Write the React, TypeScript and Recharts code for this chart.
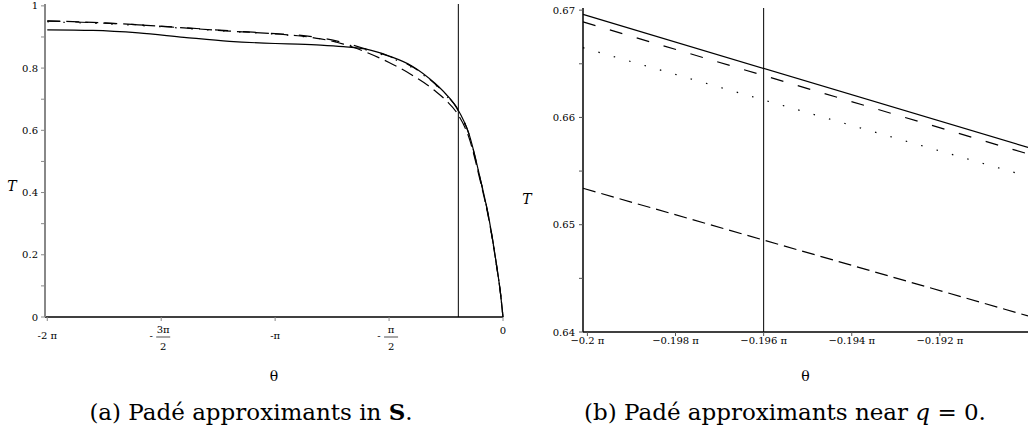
import React from 'react';
import { LineChart, Line, XAxis, YAxis, ReferenceLine, ReferenceArea } from 'recharts';

// (a) whole sector, theta in units of pi
const thetaS = [-2, -1.8, -1.6, -1.4, -1.2, -1.0, -0.9, -0.8, -0.7, -0.6, -0.5, -0.4, -0.3, -0.25, -0.2, -0.15, -0.1, -0.06, -0.03, -0.01, 0];
const solidS = [0.923, 0.921, 0.913, 0.899, 0.886, 0.879, 0.877, 0.874, 0.869, 0.861, 0.839, 0.807, 0.752, 0.716, 0.6695, 0.59, 0.445, 0.31, 0.175, 0.07, 0];
const longDashS = [0.951, 0.946, 0.939, 0.93, 0.92, 0.911, 0.906, 0.897, 0.882, 0.861, 0.838, 0.805, 0.75, 0.715, 0.6688, 0.589, 0.444, 0.31, 0.175, 0.07, 0];
const dottedS = [0.949, 0.944, 0.937, 0.928, 0.918, 0.909, 0.903, 0.894, 0.879, 0.858, 0.835, 0.802, 0.748, 0.712, 0.6665, 0.587, 0.443, 0.309, 0.175, 0.07, 0];
const dashS = [0.952, 0.947, 0.939, 0.929, 0.919, 0.91, 0.904, 0.894, 0.877, 0.851, 0.818, 0.778, 0.728, 0.696, 0.6533, 0.578, 0.438, 0.306, 0.173, 0.07, 0];
const ticksS = [-2, -1.5, -1, -0.5, 0];
const tickLabelsS = ['-2 π', '-3π/2', '-π', '-π/2', '0'];
const yTicksS = [0, 0.1, 0.2, 0.3, 0.4, 0.5, 0.6, 0.7, 0.8, 0.9, 1];

// (b) close-up near q = 0
const thetaQ = [-0.2001, -0.19];
const solidQ = [0.6696, 0.6572];
const longDashQ = [0.6689, 0.6566];
const dottedQ = [0.6665, 0.6545];
const dashQ = [0.6534, 0.6415];
const ticksQ = [-0.2, -0.198, -0.196, -0.194, -0.192];
const yTicksQ = [0.64, 0.645, 0.65, 0.655, 0.66, 0.665, 0.67];

const markerTheta = -0.196;

const serif = '"DejaVu Serif", serif';
const tickFont = { fill: '#000', fontSize: 10, fontFamily: serif };

const dataS = thetaS.map((t, i) => ({ t, solid: solidS[i], longDash: longDashS[i], dotted: dottedS[i], dash: dashS[i] }));
const dataQ = thetaQ.map((t, i) => ({ t, solid: solidQ[i], longDash: longDashQ[i], dotted: dottedQ[i], dash: dashQ[i] }));

function PiTick(props: any) {
  const { x, y, payload } = props;
  const label = tickLabelsS[ticksS.indexOf(payload.value)] || '';
  const style = { fontSize: 10, fontFamily: serif, fill: '#000' };
  if (label.includes('/')) {
    const [num, den] = label.slice(1).split('/');
    return (
      <g>
        <text x={x - 10} y={y + 16} textAnchor="middle" style={style}>-</text>
        <text x={x + 2} y={y + 10} textAnchor="middle" style={style}>{num}</text>
        <line x1={x - 5} x2={x + 9} y1={y + 14} y2={y + 14} stroke="#000" strokeWidth={0.7} />
        <text x={x + 2} y={y + 27} textAnchor="middle" style={style}>{den}</text>
      </g>
    );
  }
  return (
    <text x={x} y={label === '0' ? y + 11 : y + 16} textAnchor="middle" style={style}>{label}</text>
  );
}

function AxisTitle(props: any) {
  const { viewBox, text, fx, fy, ox = 0, oy = 0, italic } = props;
  const vb = viewBox || { x: 0, y: 0, width: 0, height: 0 };
  return (
    <text
      x={vb.x + vb.width * fx + ox}
      y={vb.y + vb.height * fy + oy}
      textAnchor="middle"
      dominantBaseline="central"
      style={{ fontSize: 14, fontFamily: serif, fontStyle: italic ? 'italic' : 'normal', fill: '#000' }}
    >
      {text}
    </text>
  );
}

const lineProps = { stroke: '#000', strokeWidth: 1.2, dot: false, isAnimationActive: false, activeDot: false };

const captionStyle: React.CSSProperties = {
  position: 'absolute',
  top: 397,
  transform: 'translateX(-50%)',
  whiteSpace: 'nowrap',
  fontFamily: serif,
  fontSize: 23,
  lineHeight: '30px',
  fontWeight: 400,
};

export default function App() {
  return (
    <div style={{ position: 'absolute', left: 0, top: 0, width: 1028, height: 435, overflow: 'hidden', background: '#fff' }}>
      <div style={{ position: 'absolute', left: 0, top: 0 }}>
        <LineChart width={520} height={395} data={dataS} margin={{ top: 4, right: 17, bottom: 0, left: 0 }}>
          <ReferenceArea fill="none" stroke="#000" strokeWidth={1} fillOpacity={0} />
          <XAxis
            dataKey="t"
            type="number"
            domain={[-2.01, 0]}
            ticks={ticksS}
            height={78}
            tick={<PiTick />}
            tickSize={4}
            tickMargin={2}
            axisLine={{ stroke: '#000', strokeWidth: 1.5 }}
            tickLine={{ stroke: '#888' }}
            label={<AxisTitle text="θ" fx={0.5} fy={1} oy={-19} />}
          />
          <YAxis
            type="number"
            domain={[0, 1.006]}
            ticks={yTicksS}
            width={45}
            tick={tickFont}
            tickSize={4}
            tickMargin={3}
            tickFormatter={(v: number) => (Math.round(v * 10) % 2 === 0 ? String(v) : '')}
            axisLine={{ stroke: '#888', strokeWidth: 2 }}
            tickLine={{ stroke: '#888' }}
            label={<AxisTitle text="T" fx={0} fy={0.58} ox={12} italic />}
          />
          <ReferenceLine x={markerTheta} stroke="#000" strokeWidth={1} />
          <Line dataKey="dash" type="monotone" strokeDasharray="13 6" {...lineProps} />
          <Line dataKey="dotted" type="monotone" strokeDasharray="1.5 14.5" {...lineProps} />
          <Line dataKey="longDash" type="monotone" strokeDasharray="13 15" {...lineProps} />
          <Line dataKey="solid" type="monotone" {...lineProps} />
        </LineChart>
      </div>
      <div style={{ position: 'absolute', left: 520, top: 0 }}>
        <LineChart width={510} height={395} data={dataQ} margin={{ top: 8, right: 2, bottom: 0, left: 0 }}>
          <ReferenceArea fill="none" stroke="#000" strokeWidth={1} fillOpacity={0} />
          <XAxis
            dataKey="t"
            type="number"
            domain={[-0.2001, -0.19]}
            ticks={ticksQ}
            height={63}
            tick={tickFont}
            tickSize={4}
            tickMargin={1}
            tickFormatter={(v: number) => `${String(v).replace('-', '\u2212')} π`}
            axisLine={{ stroke: '#000', strokeWidth: 1.5 }}
            tickLine={{ stroke: '#555' }}
            label={<AxisTitle text="θ" fx={0.5} fy={1} oy={-19} />}
          />
          <YAxis
            type="number"
            domain={[0.64, 0.6702]}
            ticks={yTicksQ}
            width={63}
            tick={tickFont}
            tickSize={4}
            tickMargin={4}
            tickFormatter={(v: number) => (Math.round(v * 1000) % 10 === 0 ? String(v) : '')}
            axisLine={{ stroke: '#000', strokeWidth: 1.5 }}
            tickLine={{ stroke: '#555' }}
            label={<AxisTitle text="T" fx={0} fy={0.59} ox={7} italic />}
          />
          <ReferenceLine x={markerTheta} stroke="#000" strokeWidth={1} />
          <Line dataKey="dash" type="linear" strokeDasharray="13 6" {...lineProps} />
          <Line dataKey="dotted" type="linear" strokeDasharray="1.5 14.5" {...lineProps} />
          <Line dataKey="longDash" type="linear" strokeDasharray="13 15" {...lineProps} />
          <Line dataKey="solid" type="linear" {...lineProps} />
        </LineChart>
      </div>
      <div style={{ ...captionStyle, left: 251 }}>
        (a) Padé approximants in <span style={{ fontWeight: 700 }}>S</span>.
      </div>
      <div style={{ ...captionStyle, left: 785 }}>
        (b) Padé approximants near <i>q</i> = 0.
      </div>
    </div>
  );
}
